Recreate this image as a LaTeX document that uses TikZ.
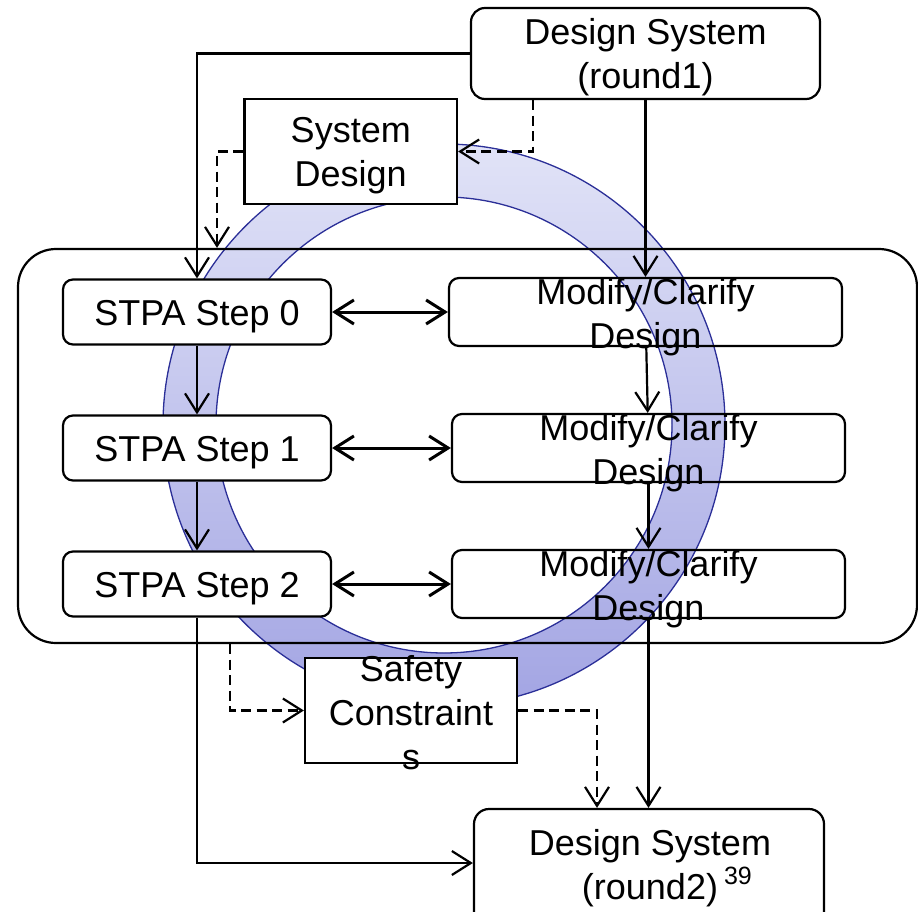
\documentclass[tikz,border=0pt]{standalone}
\usepackage{fontspec}
\setmainfont{Liberation Sans}
\usetikzlibrary{arrows.meta}
\definecolor{ringedge}{HTML}{2B2F98}
\definecolor{ringtop}{HTML}{E1E3F7}
\definecolor{ringbottom}{HTML}{A3A5E3}
\begin{document}
\begin{tikzpicture}[x=1pt,y=-1pt,
  lbl/.style={font=\fontsize{36}{44}\selectfont, align=center, inner sep=0pt},
  sharp/.style={draw, line width=2.2pt, fill=white, inner sep=0pt},
  rbox/.style={sharp, rounded corners=10pt},
  arr/.style={line width=2.2pt, -{Straight Barb[length=19pt,width=24pt,line width=2.2pt]}},
  dsh/.style={arr, dash pattern=on 10pt off 5.5pt},
  dbl/.style={line width=3pt, {Straight Barb[length=19pt,width=24pt,line width=3pt]}-{Straight Barb[length=19pt,width=24pt,line width=3pt]}}]
\clip (0,0) rectangle (918,912);
\useasboundingbox (0,0) rectangle (918,912);

% shaded ring behind everything
\coordinate (rc) at (444,425);
\fill[even odd rule, top color=ringtop, bottom color=ringbottom]
  (rc) circle[radius=281pt] (rc) circle[radius=228pt];
\draw[ringedge, line width=1.3pt] (rc) circle[radius=281pt];
\draw[ringedge, line width=1.3pt] (rc) circle[radius=228pt];

% container of the STPA steps
\node[draw, line width=2.2pt, rounded corners=38pt, minimum width=899pt, minimum height=394pt, inner sep=0pt] (cont) at (467.5,446) {};

% boxes
\node[rbox, rounded corners=14pt, minimum width=349pt, minimum height=91pt] (r1) at (645.5,53.5) {};
\node[lbl] (r1t) at (645.5,57) {Design System\\(round1)};

\node[sharp, minimum width=212.5pt, minimum height=105pt] (sd) at (350.75,151.5) {};
\node[lbl] (sdt) at (350.75,155.5) {System\\Design};

\node[rbox, minimum width=268pt, minimum height=65pt] (s0) at (197,312) {};
\node[rbox, minimum width=268pt, minimum height=65pt] (s1) at (197,448) {};
\node[rbox, minimum width=268pt, minimum height=65pt] (s2) at (197,584) {};
\node[lbl] (s0t) at (197,317) {STPA Step 0};
\node[lbl] (s1t) at (197,453) {STPA Step 1};
\node[lbl] (s2t) at (197,589) {STPA Step 2};

\node[rbox, fill=none, minimum width=393pt, minimum height=68pt] (m0) at (645.5,312) {};
\node[rbox, fill=none, minimum width=393pt, minimum height=68pt] (m1) at (648.5,448) {};
\node[rbox, fill=none, minimum width=393pt, minimum height=68pt] (m2) at (648.5,584) {};
\node[lbl] (m0t) at (645.5,317.5) {Modify/Clarify\\Design};
\node[lbl] (m1t) at (648.5,453.5) {Modify/Clarify\\Design};
\node[lbl] (m2t) at (648.5,589.5) {Modify/Clarify\\Design};

\node[sharp, minimum width=212pt, minimum height=105pt] (sc) at (411,710.5) {};
\node[lbl] (sct) at (411,713) {Safety\\Constraint\\s};

\node[rbox, rounded corners=15pt, minimum width=350pt, minimum height=130pt] (r2) at (649,874) {};
\node[lbl] (r2t) at (650,868) {Design System\\(round2)\rlap{\,\fontsize{25}{25}\selectfont\raisebox{15pt}{39}}};

% connectors
\draw[arr] (r1.west) -| (s0.north);
\draw[arr] (r1) -- (m0);
\draw[dsh] ([xshift=-112.5pt]r1.south) |- (sd.east);
\draw[dsh] (sd.west) -| ([xshift=-250.5pt]cont.north);

\draw[dbl] (s0.east) -- (m0.west);
\draw[dbl] (s1.east) -- (m1.west);
\draw[dbl] (s2.east) -- (m2.west);

\draw[arr] (s0) -- (s1);
\draw[arr] (s1) -- (s2);
\draw[arr] (m0) -- (m1);
\draw[arr] (m1) -- (m2);
\draw[arr] (m2) -- (m2 |- r2.north);
\draw[arr] (s2.south) |- ([yshift=11pt]r2.west);

\draw[dsh] ([xshift=-237.5pt]cont.south) |- (sc.west);
\draw[dsh] (sc.east) -| ([xshift=-52pt]r2.north);
\end{tikzpicture}
\end{document}
